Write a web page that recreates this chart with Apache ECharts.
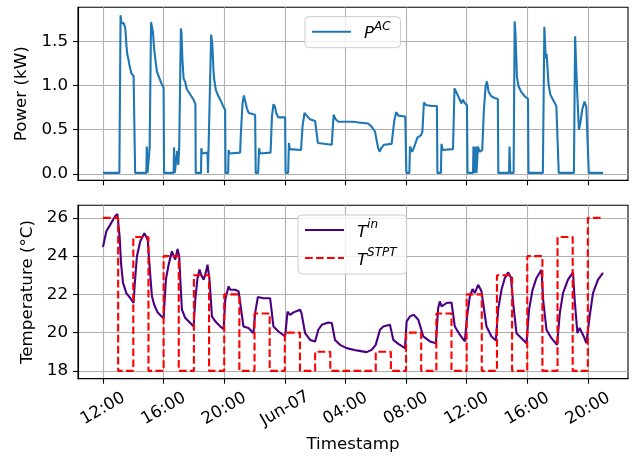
<!DOCTYPE html>
<html>
<head>
<meta charset="utf-8">
<script src="https://cdn.jsdelivr.net/npm/echarts@6/dist/echarts.min.js"></script>
<style>
  html, body { margin: 0; padding: 0; background: #ffffff; }
  #chart { width: 632px; height: 460px; }
</style>
</head>
<body>
<div id="chart"></div>
<script>
// Hours since Jun-06 12:00 for the x ticks, and what each tick reads
const tickHours = [0, 4, 8, 12, 16, 20, 24, 28, 32];
const tickLabels = ['12:00', '16:00', '20:00', 'Jun-07', '04:00', '08:00', '12:00', '16:00', '20:00'];

const powerTicks = [0, 0.5, 1.0, 1.5];
const powerTickLabels = ['0.0', '0.5', '1.0', '1.5'];
const tempTicks = [18, 20, 22, 24, 26];
const tempTickLabels = ['18', '20', '22', '24', '26'];

// AC power draw (kW)
const powerHours = [
  0, 1.08, 1.16, 1.22, 1.36, 1.47, 1.55, 1.60, 1.69, 1.76, 1.87, 2.02, 2.10, 2.12,
  2.86, 2.89, 2.94, 3.04, 3.08, 3.17, 3.23, 3.30, 3.38, 3.49, 3.56, 3.67, 3.78, 3.87, 4.00, 4.03,
  4.66, 4.69, 4.74, 4.86, 4.90, 4.97, 5.03, 5.14, 5.18, 5.24, 5.32, 5.43, 5.53, 5.76, 5.98, 6.10, 6.12,
  6.47, 6.49, 6.55, 6.90, 6.93, 7.06, 7.14, 7.21, 7.30, 7.34, 7.45, 7.62, 7.80, 7.95, 8.06, 8.09,
  8.26, 8.29, 8.34, 9.05, 9.10, 9.21, 9.30, 9.40, 9.50, 9.62, 10.04, 10.08,
  10.24, 10.30, 10.36, 11.06, 11.15, 11.25, 11.35, 11.45, 11.58, 12.02, 12.05,
  12.22, 12.27, 12.33, 13.07, 13.17, 13.30, 13.45, 13.65, 14.00, 14.10, 14.18, 14.30,
  15.10, 15.22, 15.35, 15.55, 16.50, 17.00, 17.50, 17.75, 17.95, 18.08, 18.15, 18.25, 18.40, 18.55,
  19.05, 19.22, 19.35, 19.50, 19.95, 20.02, 20.22, 20.26, 20.40, 20.55, 20.75, 21.00, 21.08, 21.18,
  21.32, 21.70, 22.04, 22.07, 22.30, 22.34, 22.42, 23.10, 23.20, 23.32, 23.50, 23.65, 23.76, 23.88,
  24.02, 24.06, 24.42, 24.45, 24.50, 24.57, 24.60, 24.65, 24.72, 24.75, 24.85, 25.03, 25.14, 25.25,
  25.34, 25.45, 25.63, 25.85, 26.06, 26.09, 26.80, 26.83, 26.88, 27.10, 27.17, 27.22, 27.32, 27.43,
  27.60, 27.83, 28.05, 28.08, 29.03, 29.13, 29.22, 29.28, 29.40, 29.52, 29.70, 29.92, 30.04, 30.08,
  31.08, 31.16, 31.23, 31.30, 31.41, 31.50, 31.63, 31.78, 31.90, 32.03, 32.06, 33.00
];
const powerKW = [
  0.01, 0.01, 1.80, 1.71, 1.71, 1.66, 1.45, 1.36, 1.29, 1.22, 1.14, 1.11, 1.10, 0.01,
  0.01, 0.31, 0.01, 0.01, 0.30, 1.72, 1.67, 1.60, 1.41, 1.25, 1.16, 1.11, 1.10, 1.02, 0.98, 0.01,
  0.01, 0.30, 0.01, 0.01, 0.26, 0.10, 0.30, 1.65, 1.60, 1.30, 1.08, 1.04, 0.96, 0.90, 0.84, 0.79, 0.01,
  0.01, 0.29, 0.23, 0.24, 0.01, 0.01, 1.58, 1.48, 1.15, 1.07, 0.95, 0.88, 0.82, 0.76, 0.73, 0.01,
  0.01, 0.27, 0.23, 0.24, 0.46, 0.80, 0.89, 0.88, 0.74, 0.69, 0.67, 0.01,
  0.01, 0.29, 0.23, 0.24, 0.65, 0.79, 0.76, 0.68, 0.64, 0.64, 0.01,
  0.01, 0.35, 0.28, 0.27, 0.54, 0.69, 0.66, 0.62, 0.60, 0.59, 0.35, 0.33,
  0.33, 0.67, 0.62, 0.59, 0.59, 0.58, 0.57, 0.53, 0.48, 0.46, 0.30, 0.25, 0.30, 0.33,
  0.34, 0.60, 0.70, 0.66, 0.65, 0.01, 0.01, 0.31, 0.25, 0.31, 0.41, 0.44, 0.48, 0.81,
  0.78, 0.77, 0.77, 0.01, 0.01, 0.34, 0.27, 0.28, 0.97, 0.98, 0.86, 0.80, 0.84, 0.80,
  0.78, 0.01, 0.01, 0.31, 0.01, 0.01, 0.31, 0.01, 0.01, 0.31, 0.25, 0.27, 0.73, 0.99,
  1.05, 0.93, 0.88, 0.86, 0.85, 0.01, 0.01, 0.31, 0.01, 0.01, 1.73, 1.60, 1.10, 0.99,
  0.93, 0.88, 0.85, 0.01, 0.01, 1.67, 1.31, 1.36, 1.03, 0.90, 0.84, 0.77, 0.78, 0.01,
  0.01, 1.56, 1.22, 0.91, 0.50, 0.57, 0.73, 0.82, 0.76, 0.76, 0.01, 0.01
];

// Indoor temperature (°C)
const tinHours = [
  0, 0.22, 0.48, 0.81, 0.95, 1.03, 1.10, 1.19, 1.32, 1.54, 1.80, 2.02, 2.10, 2.24, 2.46, 2.73, 2.84,
  2.95, 3.05, 3.12, 3.23, 3.38, 3.60, 3.80, 4.00, 4.15, 4.33, 4.55, 4.66, 4.77, 4.92, 5.03, 5.12,
  5.21, 5.43, 5.76, 5.98, 6.09, 6.24, 6.37, 6.48, 6.64, 6.75, 6.90, 7.03, 7.19, 7.41, 7.74, 7.96,
  8.07, 8.29, 8.40, 8.73, 8.95, 9.05, 9.27, 9.60, 9.93, 10.04, 10.22, 10.59, 11.03, 11.25, 11.58,
  12.02, 12.18, 12.35, 12.57, 13.01, 13.10, 13.34, 13.67, 14.00, 14.21, 14.44, 14.87, 15.10, 15.31,
  15.64, 16.08, 16.74, 17.40, 17.73, 18.00, 18.28, 18.50, 18.94, 19.16, 19.49, 19.93, 20.04, 20.26,
  20.52, 20.81, 21.14, 21.58, 21.97, 22.12, 22.23, 22.35, 22.68, 23.00, 23.22, 23.55, 23.88, 24.03,
  24.21, 24.39, 24.54, 24.76, 24.98, 25.09, 25.31, 25.64, 25.93, 26.08, 26.30, 26.52, 26.74, 26.92,
  27.07, 27.29, 27.62, 27.95, 28.12, 28.35, 28.61, 28.94, 29.05, 29.27, 29.60, 29.97, 30.15, 30.36,
  30.69, 31.02, 31.13, 31.31, 31.46, 31.53, 31.73, 31.90, 32.12, 32.34, 32.67, 33.00
];
const tinC = [
  24.48, 25.30, 25.65, 26.10, 26.20, 26.25, 25.00, 23.64, 22.60, 22.07, 21.80, 21.55, 22.60, 24.00, 24.78, 25.20, 25.25,
  24.86, 24.78, 23.00, 21.90, 21.46, 21.06, 20.90, 20.76, 22.77, 23.55, 24.25, 24.17, 23.82, 24.38, 24.00, 22.50,
  21.20, 20.76, 20.50, 20.32, 21.72, 22.86, 23.30, 23.03, 22.77, 23.03, 23.55, 22.77, 20.85, 20.59, 20.32, 20.18,
  21.72, 22.42, 22.24, 22.24, 22.16, 22.07, 20.32, 20.24, 19.97, 21.02, 21.86, 21.80, 21.80, 20.32, 20.06,
  19.80, 21.10, 20.93, 21.06, 21.20, 21.02, 19.97, 19.62, 19.54, 20.15, 20.41, 20.53, 20.50, 19.62,
  19.36, 19.19, 19.07, 18.98, 19.10, 19.36, 20.15, 20.32, 20.41, 19.62, 19.41, 19.19, 20.58, 20.85,
  20.93, 20.67, 19.80, 19.54, 19.45, 21.28, 21.63, 21.37, 21.55, 21.58, 20.32, 19.89, 19.54, 20.85,
  21.90, 22.28, 22.07, 22.50, 22.16, 21.55, 20.32, 19.80, 19.59, 21.20, 22.24, 22.86, 23.15, 22.90,
  21.55, 19.97, 19.71, 19.45, 21.20, 22.24, 22.86, 23.29, 21.72, 20.15, 19.71, 19.36, 21.02, 22.07,
  22.77, 23.15, 21.72, 19.97, 20.24, 20.18, 19.80, 19.45, 20.85, 22.07, 22.77, 23.12
];

// Hourly thermostat setpoint (°C); each value holds until the next hour
const stptHours = [0, 1, 2, 3, 4, 5, 6, 7, 8, 9, 10, 11, 12, 13, 14, 15, 16, 17, 18, 19, 20, 21, 22, 23, 24, 25, 26, 27, 28, 29, 30, 31, 32, 33];
const stptC = [26, 18, 25, 18, 24, 18, 23, 18, 22, 18, 21, 18, 20, 18, 19, 18, 18, 18, 19, 18, 20, 18, 21, 18, 22, 18, 23, 18, 24, 18, 25, 18, 26, 26];

const FONT = 'DejaVu Sans';
const FS = 16.7;
const X_MIN = -1.65, X_MAX = 34.65;

const zip = (xs, ys) => xs.map((x, i) => [x, ys[i]]);

function xAxisCfg(gridIndex, withLabels) {
  return {
    type: 'value', gridIndex, min: X_MIN, max: X_MAX,
    axisLine: { show: true, onZero: false, lineStyle: { color: '#000', width: 1.1 } },
    axisTick: { show: true, customValues: tickHours, length: 5, lineStyle: { color: '#000', width: 1.1 } },
    axisLabel: {
      show: withLabels, customValues: tickHours, rotate: 30, align: 'center', verticalAlign: 'middle',
      margin: 30, color: '#000', fontFamily: FONT, fontSize: FS,
      formatter: v => tickLabels[tickHours.indexOf(v)]
    },
    splitLine: { show: true, lineStyle: { color: '#b0b0b0', width: 1.1 } },
    name: withLabels ? 'Timestamp' : '', nameLocation: 'middle', nameGap: 57,
    nameTextStyle: { color: '#000', fontFamily: FONT, fontSize: FS }
  };
}

function yAxisCfg(gridIndex, min, max, ticks, labels, name) {
  return {
    type: 'value', gridIndex, min, max,
    axisLine: { show: true, onZero: false, lineStyle: { color: '#000', width: 1.1 } },
    axisTick: { show: true, customValues: ticks, length: 5, lineStyle: { color: '#000', width: 1.1 } },
    axisLabel: {
      customValues: ticks, margin: 10, color: '#000', fontFamily: FONT, fontSize: FS,
      formatter: v => labels[ticks.indexOf(v)]
    },
    splitLine: { show: true, lineStyle: { color: '#b0b0b0', width: 1.1 } },
    name, nameLocation: 'middle', nameRotate: 90, nameGap: 40,
    nameTextStyle: { color: '#000', fontFamily: FONT, fontSize: FS }
  };
}

const legendRich = {
  sp: { width: 8, fontSize: 10 },
  b: { fontFamily: FONT, fontStyle: 'italic', fontSize: 16.5, color: '#000', lineHeight: 22, verticalAlign: 'bottom' },
  s: { fontFamily: FONT, fontStyle: 'italic', fontSize: 12, color: '#000', lineHeight: 14, verticalAlign: 'top' }
};
const legendText = {
  PAC: '{sp| }{b|P}{s|AC}',
  Tin: '{sp| }{b|T}{s|in}',
  TSTPT: '{sp| }{b|T}{s|STPT}'
};

function legendCfg(names, left, top, gap) {
  return {
    data: names, orient: 'vertical', left, top, itemGap: gap,
    itemWidth: 39, itemHeight: 14,
    padding: [4, 10, 5, 6],
    backgroundColor: 'rgba(255,255,255,0.8)',
    borderColor: '#cccccc', borderWidth: 1, borderRadius: 4,
    // legend keys show only the line, no marker
    itemStyle: { color: 'rgba(0,0,0,0)', borderWidth: 0, opacity: 0 },
    formatter: n => legendText[n],
    textStyle: { rich: legendRich },
    selectedMode: false
  };
}

const chart = echarts.init(document.getElementById('chart'), null, { renderer: 'canvas' });
chart.setOption({
  animation: false,
  backgroundColor: '#ffffff',
  grid: [
    { left: 78, top: 7.3, width: 550, height: 173, show: true, borderColor: '#000', borderWidth: 1.1, backgroundColor: 'transparent' },
    { left: 78, top: 205.3, width: 550, height: 173.4, show: true, borderColor: '#000', borderWidth: 1.1, backgroundColor: 'transparent' }
  ],
  xAxis: [xAxisCfg(0, false), xAxisCfg(1, true)],
  yAxis: [
    yAxisCfg(0, -0.074, 1.89, powerTicks, powerTickLabels, 'Power (kW)'),
    yAxisCfg(1, 17.59, 26.66, tempTicks, tempTickLabels, 'Temperature (°C)')
  ],
  legend: [
    legendCfg(['PAC'], 305, 16.7, 6),
    legendCfg(['Tin', 'TSTPT'], 298, 215, 6)
  ],
  series: [
    {
      name: 'PAC', type: 'line', xAxisIndex: 0, yAxisIndex: 0,
      data: zip(powerHours, powerKW), symbol: 'none', showSymbol: false,
      lineStyle: { color: '#1f77b4', width: 2.1 }, itemStyle: { color: '#1f77b4' }
    },
    {
      name: 'Tin', type: 'line', xAxisIndex: 1, yAxisIndex: 1,
      data: zip(tinHours, tinC), symbol: 'none', showSymbol: false,
      lineStyle: { color: '#4b0082', width: 2.1 }, itemStyle: { color: '#4b0082' }
    },
    {
      name: 'TSTPT', type: 'line', xAxisIndex: 1, yAxisIndex: 1, step: 'end',
      data: zip(stptHours, stptC), symbol: 'none', showSymbol: false,
      lineStyle: { color: '#ff0000', width: 2.1, type: [7.7, 3.3] }, itemStyle: { color: '#ff0000' }
    }
  ]
});
</script>
</body>
</html>
